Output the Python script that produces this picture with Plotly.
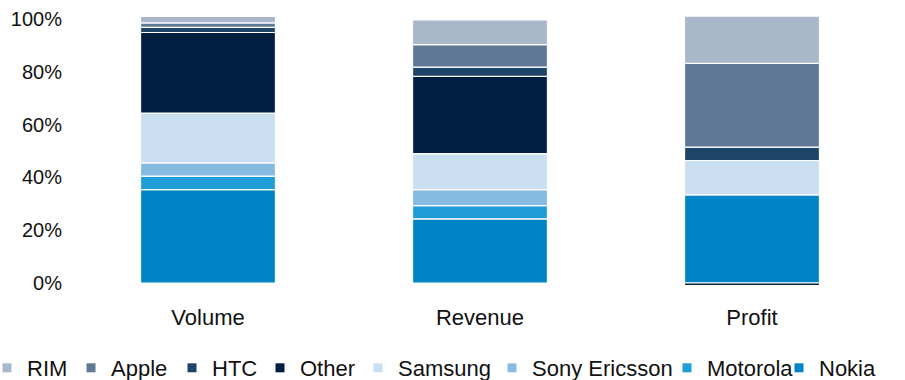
import plotly.graph_objects as go

categories = ["Volume", "Revenue", "Profit"]
series_names = ["Nokia", "Motorola", "Sony Ericsson", "Samsung", "Other", "HTC", "Apple", "RIM"]
nokia = [35.4, 24.3, 33.5]
motorola = [5.1, 5.0, 0.0]
sony_ericsson = [5.0, 6.1, 0.0]
samsung = [18.9, 13.6, 12.9]
other = [30.5, 29.3, -1.0]
htc = [1.9, 3.5, 5.1]
apple = [1.7, 8.5, 31.7]
rim = [2.5, 9.4, 17.9]
values = [nokia, motorola, sony_ericsson, samsung, other, htc, apple, rim]
colors = ["#0084C8", "#1F9DD6", "#86BBE1", "#C9DEF1", "#001F40", "#1D4469", "#5F7896", "#A9B7CB"]

legend_order = ["RIM", "Apple", "HTC", "Other", "Samsung", "Sony Ericsson", "Motorola", "Nokia"]
legend_text_px = [27, 111, 212, 300, 398, 532, 707, 819]

tick_vals = [0, 20, 40, 60, 80, 100]
tick_text = ["0%", "20%", "40%", "60%", "80%", "100%"]

FONT = "Liberation Sans, Arial, sans-serif"
W, H = 905, 380
ML, MR, MT, MB = 72, 17, 15, 94
plot_w = W - ML - MR
plot_h = H - MT - MB

fig = go.Figure()
for name, vals, col in zip(series_names, values, colors):
    fig.add_trace(go.Bar(
        x=categories, y=vals, name=name, marker=dict(color=col, line=dict(color="white", width=1.2)),
        showlegend=False, hoverinfo="skip"))

layout_legends = {}
for i, name in enumerate(legend_order):
    col = colors[series_names.index(name)]
    key = "legend" if i == 0 else f"legend{i+1}"
    fig.add_trace(go.Scatter(
        x=[None], y=[None], mode="markers", name=name,
        marker=dict(symbol="square", size=9, color=col),
        showlegend=True, legend=key))
    layout_legends[key] = dict(
        x=(legend_text_px[i] - 40 - ML) / plot_w, xanchor="left",
        y=(MT + plot_h - 368) / plot_h, yanchor="middle",
        orientation="h", font=dict(family=FONT, size=22, color="#111111"),
        bgcolor="rgba(0,0,0,0)", borderwidth=0, itemclick=False, itemdoubleclick=False)

fig.update_layout(
    width=W, height=H,
    margin=dict(l=ML, r=MR, t=MT, b=MB, pad=0, autoexpand=False),
    barmode="relative", bargap=0.504,
    plot_bgcolor="white", paper_bgcolor="white",
    font=dict(family=FONT, color="#111111"),
    xaxis=dict(range=[-0.5, 2.5], showline=False, showgrid=False, zeroline=False,
               tickfont=dict(size=22), ticks="", ticklabelstandoff=16, automargin=False),
    yaxis=dict(range=[-1.14, 101.52], showline=False, showgrid=False, zeroline=False,
               tickvals=tick_vals, ticktext=tick_text, tickfont=dict(size=20),
               ticks="", ticklabelstandoff=9, automargin=False),
    **layout_legends,
)

fig.write_html("out.html")
